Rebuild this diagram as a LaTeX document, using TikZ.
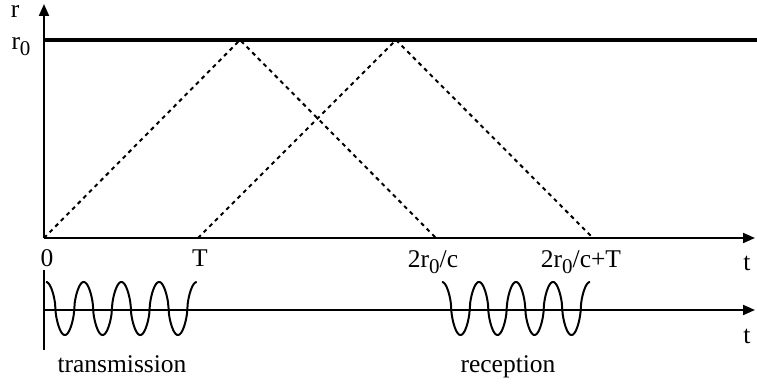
\documentclass[tikz,border=0pt]{standalone}
\usepackage{fontspec}
\setmainfont{Liberation Serif}
\usetikzlibrary{arrows.meta}
\newcommand{\rnought}{r\raisebox{-0.45ex}{\fontsize{10.5}{11}\selectfont 0}}
\begin{document}
\begin{tikzpicture}[x=0.5pt, y=0.5pt, >={Triangle[length=6pt,width=5pt]},
  font=\fontsize{12.75}{15}\selectfont,
  axis/.style = {line width=1pt, ->},
  rangeline/.style = {line width=2.3pt},
  echo/.style = {line width=1pt, dash pattern=on 2pt off 2pt},
  wave/.style = {line width=1pt},
  lab/.style = {anchor=base, inner sep=0pt}]
  \useasboundingbox (-44,-148) rectangle (713,238);

  \coordinate (o) at (0,0);
  \coordinate (rtop) at (0,234);
  \coordinate (tend) at (711,0);
  \coordinate (r0a) at (0,198);
  \coordinate (r0b) at (713,198);
  \coordinate (peak1) at (196,198);
  \coordinate (end1) at (392,0);
  \coordinate (start2) at (154,0);
  \coordinate (peak2) at (352,198);
  \coordinate (end2) at (549,0);
  \coordinate (lo) at (0,-32);
  \coordinate (lb) at (0,-112);
  \coordinate (lz) at (0,-72);
  \coordinate (lend) at (711,-72);

  % range and echoes
  \draw[rangeline] (r0a) -- (r0b);
  \draw[echo] (o) -- (peak1) -- (end1);
  \draw[echo] (start2) -- (peak2) -- (end2);

  % axes
  \draw[axis] (o) -- (rtop);
  \draw[axis] (o) -- (tend);
  \draw[line width=1pt] (lo) -- (lb);
  \draw[axis] (lz) -- (lend);

  % pulses
  \draw[wave] plot[domain=2:152.75, samples=300]
    (\x, {-70.5+26.5*sign(cos(((\x-2)/37.7)*360))*pow(abs(cos(((\x-2)/37.7)*360))+0.0001,0.6)});
  \draw[wave] plot[domain=398:546, samples=300]
    (\x, {-70.5+26.5*sign(cos(((\x-398)/37)*360))*pow(abs(cos(((\x-398)/37)*360))+0.0001,0.6)});

  \node[lab] (r) at (-29,220) {r};
  \node[lab] (r0) at (-23,188) {\rnought};
  \node[lab] (zero) at (3,-29) {0};
  \node[lab] (T) at (156,-29) {T};
  \node[lab] (back) at (389,-30) {2\rnought/c};
  \node[lab] (backT) at (537,-30) {2\rnought/c+T};
  \node[lab] (t1) at (703,-33) {t};
  \node[lab] (t2) at (703,-106) {t};
  \node[lab] (tx) at (78,-135) {transmission};
  \node[lab] (rx) at (464,-135) {reception};
\end{tikzpicture}
\end{document}
